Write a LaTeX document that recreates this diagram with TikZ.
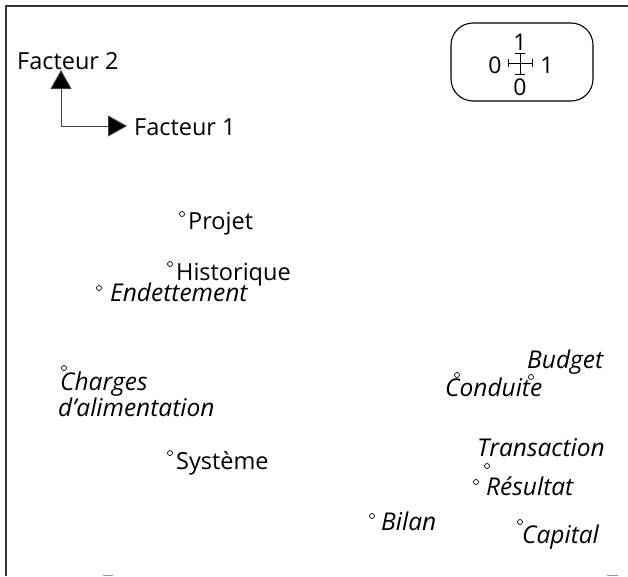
\documentclass[tikz,border=0pt]{standalone}
\usepackage{fontspec}
\setmainfont{Open Sans}
\usetikzlibrary{arrows.meta}
\begin{document}
\begin{tikzpicture}[x=1pt,y=-1pt,
  lbl/.style={anchor=base west,inner sep=0pt,font=\fontsize{23.5}{26}\selectfont},
  ilbl/.style={lbl,font=\fontsize{24.5}{27}\selectfont\itshape},
  dig/.style={inner sep=0pt,font=\fontsize{23}{26}\selectfont},
  dot/.style={circle,draw,line width=0.7pt,minimum size=5pt,inner sep=0pt},
  axis/.style={draw=black!75,line width=0.9pt,-{Triangle[length=19pt,width=21pt,fill=black]}},
  frame/.style={draw=black!80,line width=1.1pt},
  tick/.style={draw=black!40,line width=1pt},
  capbar/.style={line width=0.6pt}]
\useasboundingbox (0,0) rectangle (628,576);
% frame
\draw[frame] (6,576) -- (6,6) -- (628,6);
\draw[tick] (103,575) -- (113,575);
\draw[tick] (607,575) -- (618,575);
% axes
\coordinate (o) at (61,126);
\coordinate (f2tip) at (61,70);
\coordinate (f1tip) at (127,126);
\draw[axis] (o) -- (f2tip);
\draw[axis] (o) -- (f1tip);
\node[lbl] (f2) at (17,69) {Facteur 2};
\node[lbl] (f1) at (134,135) {Facteur 1};
% legend
\draw[line width=1.1pt,rounded corners=22pt] (451,23) rectangle (593,101);
\node[dig] (ltop) at (520,42) {1};
\node[dig] (lleft) at (495,65) {0};
\node[dig] (lright) at (547,65) {1};
\node[dig] (lbot) at (520,87) {0};
\draw[capbar] (520,53) -- (520,74);
\draw[capbar] (515,53) -- (525,53);
\draw[capbar] (515,74) -- (525,74);
\draw[capbar] (508,63) -- (532,63);
\draw[capbar] (508,59) -- (508,67);
\draw[capbar] (532,59) -- (532,67);
% points
\node[dot] (dprojet) at (182,214) {};
\node[lbl] (projet) at (188,229) {Projet};
\node[dot] (dhist) at (170,264) {};
\node[lbl] (hist) at (176,280) {Historique};
\node[dot] (dendet) at (99,288) {};
\node[ilbl] (endet) at (110,301) {Endettement};
\node[dot] (dcharges) at (64,368) {};
\node[ilbl] (charges) at (60,390) {Charges};
\node[ilbl] (alim) at (58,416) {d'alimentation};
\node[dot] (dsyst) at (170,453) {};
\node[lbl] (syst) at (176,469) {Système};
\node[dot] (dbilan) at (372,516) {};
\node[ilbl] (bilan) at (381,530) {Bilan};
\node[dot] (dbudget) at (531,377) {};
\node[ilbl] (budget) at (527,368) {Budget};
\node[dot] (dcond) at (457,375) {};
\node[ilbl] (cond) at (445,396) {Conduite};
\node[dot] (dtrans) at (487,466) {};
\node[ilbl] (trans) at (477,456) {Transaction};
\node[dot] (dres) at (476,482) {};
\node[ilbl] (res) at (486,495) {Résultat};
\node[dot] (dcap) at (520,522) {};
\node[ilbl] (cap) at (522,543) {Capital};
\end{tikzpicture}
\end{document}
